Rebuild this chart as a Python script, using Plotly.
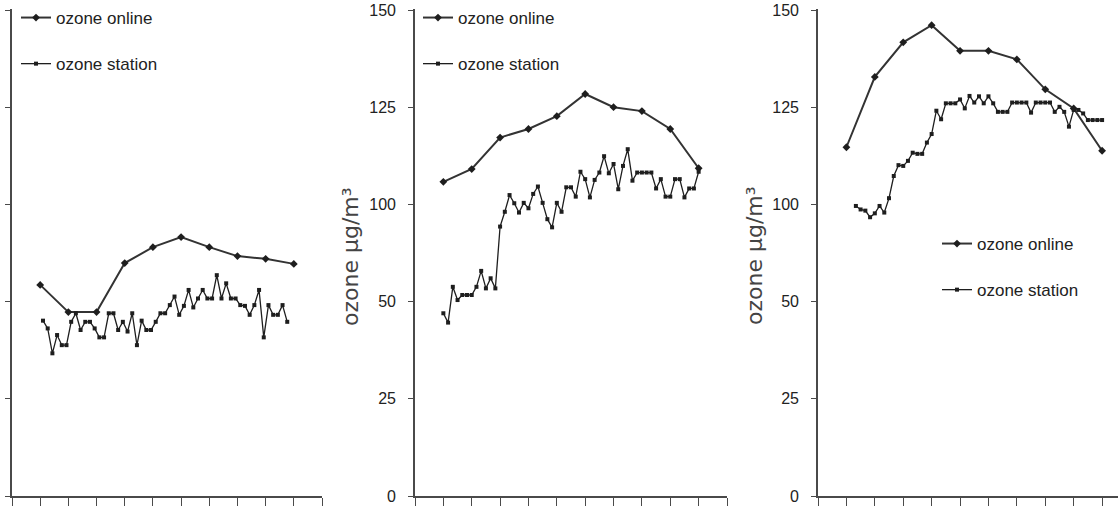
import plotly.graph_objects as go

# ---------------- data (values in axis units; tick labels as printed) ----------------
online_x = [1, 2, 3, 4, 5, 6, 7, 8, 9, 10]

p1_online = [54.3, 47.3, 47.3, 59.9, 64.0, 66.6, 64.0, 61.7, 61.0, 59.7]
p1_station = [45.1, 43.1, 36.7, 41.4, 38.8, 38.8, 44.8, 47.0, 42.7, 44.8, 44.8, 43.1,
              40.8, 40.8, 47.0, 47.0, 42.7, 44.8, 42.3, 47.0, 38.8, 45.1, 42.7, 42.7,
              44.8, 47.0, 47.0, 49.1, 51.3, 46.6, 48.9, 53.0, 48.5, 50.8, 53.0, 50.8,
              50.8, 56.8, 50.8, 54.7, 50.8, 50.8, 49.1, 48.9, 46.6, 49.1, 53.0, 40.8,
              49.1, 46.6, 46.6, 49.1, 44.8]

p2_online = [80.8, 84.1, 92.2, 94.4, 97.7, 103.4, 100.0, 99.0, 94.4, 84.3]
p2_station = [47.0, 44.6, 53.8, 50.4, 51.7, 51.7, 51.7, 53.8, 57.9, 53.4, 56.0, 53.4,
              69.3, 73.1, 77.4, 75.3, 72.9, 75.4, 74.0, 77.7, 79.6, 75.4, 71.2, 69.1,
              75.4, 73.1, 79.4, 79.4, 77.0, 83.4, 81.5, 76.8, 81.3, 83.2, 87.4, 83.0,
              85.4, 78.9, 84.9, 89.2, 81.1, 83.2, 83.2, 83.2, 83.2, 79.1, 81.5, 77.0,
              77.0, 81.5, 81.5, 76.8, 79.1, 79.1, 83.4]

p3_online = [89.7, 107.8, 116.7, 121.1, 114.5, 114.5, 112.3, 104.6, 99.7, 88.8]
p3_station = [74.6, 73.7, 73.4, 71.7, 72.7, 74.6, 72.9, 76.6, 82.3, 85.1, 84.9, 86.2,
              88.3, 88.0, 88.0, 90.9, 93.1, 99.1, 96.9, 101.0, 101.0, 101.0, 102.0, 99.7,
              102.9, 101.2, 102.8, 101.0, 102.8, 101.0, 98.8, 98.8, 98.8, 101.2, 101.2,
              101.2, 101.2, 98.6, 101.2, 101.2, 101.2, 101.2, 98.8, 100.1, 98.8, 95.0,
              99.3, 99.3, 98.4, 96.7, 96.7, 96.7, 96.7]

# station readings start part-way into the first interval, six per interval
station_start = [1.1, 1.0, 1.0 + 2 / 6]
station_step = 1 / 6

y_tickvals = [0, 25, 50, 75, 100, 125]
y_ticktext = ["0", "25", "50", "100", "125", "150"]
x_tickvals = list(range(0, 12))

series_names = ["ozone online", "ozone station"]
y_title = "ozone µg/m³"

# ---------------- figure ----------------
W, H = 1118, 508
ML, MR, MT, MB = 0, 0, 9, 12
PH = H - MT - MB
Y_TOP = 125.26  # axis top (value units)

def px_x(p):
    return p / W

def px_y(p):
    return (H - MB - p) / PH

panels = [
    (p1_online, p1_station, [px_x(12), px_x(322)], [0, 11], False, "legend"),
    (p2_online, p2_station, [px_x(415), px_x(727)], [0, 11], True, "legend2"),
    (p3_online, p3_station, [px_x(818), 1.0], [0, 10.56], True, "legend3"),
]

ink = "#1e1e1e"
axis_col = "#4a4a4a"
tick_font = dict(family="Liberation Sans, Arial", size=16, color="#222")
leg_font = dict(family="Liberation Sans, Arial", size=17, color="#222")

fig = go.Figure()
layout = dict(
    width=W, height=H,
    margin=dict(l=ML, r=MR, t=MT, b=MB),
    paper_bgcolor="white", plot_bgcolor="white",
    showlegend=True,
)

for i, (onl, sta, dom, xr, show_lbl, leg) in enumerate(panels):
    n = i + 1
    xa = "x" if n == 1 else f"x{n}"
    ya = "y" if n == 1 else f"y{n}"
    sx = [station_start[i] + k * station_step for k in range(len(sta))]
    fig.add_trace(go.Scatter(
        x=online_x, y=onl, xaxis=xa, yaxis=ya, mode="lines+markers",
        name=series_names[0], legend=leg, legendgroup=f"on{n}",
        line=dict(color="#333", width=2),
        marker=dict(symbol="diamond", size=6, color=ink),
    ))
    fig.add_trace(go.Scatter(
        x=sx, y=sta, xaxis=xa, yaxis=ya, mode="lines+markers",
        name=series_names[1], legend=leg, legendgroup=f"st{n}",
        line=dict(color=ink, width=1.3),
        marker=dict(symbol="square", size=4, color=ink),
    ))
    kx = "xaxis" if n == 1 else f"xaxis{n}"
    ky = "yaxis" if n == 1 else f"yaxis{n}"
    layout[kx] = dict(
        domain=dom, range=xr, anchor=ya, tickvals=x_tickvals, showticklabels=False,
        ticks="outside", ticklen=8, tickwidth=1.3, tickcolor=axis_col,
        showline=True, linecolor=axis_col, linewidth=1.6, showgrid=False, zeroline=False,
    )
    layout[ky] = dict(
        domain=[0, 1], range=[0, Y_TOP], anchor=xa, tickvals=y_tickvals, ticktext=y_ticktext,
        showticklabels=show_lbl, tickfont=tick_font, ticklabelstandoff=9,
        ticks="outside", ticklen=5, tickwidth=1.3, tickcolor=axis_col,
        showline=True, linecolor=axis_col, linewidth=1.6, showgrid=False, zeroline=False,
    )

leg_common = dict(font=leg_font, bgcolor="rgba(0,0,0,0)", borderwidth=0,
                  xanchor="left", yanchor="top", tracegroupgap=21, itemwidth=30)
layout["legend"] = dict(x=px_x(16), y=px_y(0), **leg_common)
layout["legend2"] = dict(x=px_x(418), y=px_y(0), **leg_common)
layout["legend3"] = dict(x=px_x(937), y=px_y(226), **leg_common)

title_font = dict(family="DejaVu Sans, Arial", size=22, color="#444")
layout["annotations"] = [
    dict(text=y_title, x=px_x(350), y=px_y(257), xref="paper", yref="paper",
         textangle=-90, showarrow=False, font=title_font, xanchor="center", yanchor="middle"),
    dict(text=y_title, x=px_x(754), y=px_y(256), xref="paper", yref="paper",
         textangle=-90, showarrow=False, font=title_font, xanchor="center", yanchor="middle"),
]

fig.update_layout(**layout)
fig.write_html("out.html", config={"displayModeBar": False},
               post_script="document.body.style.margin='0px';document.body.style.overflow='hidden';")
